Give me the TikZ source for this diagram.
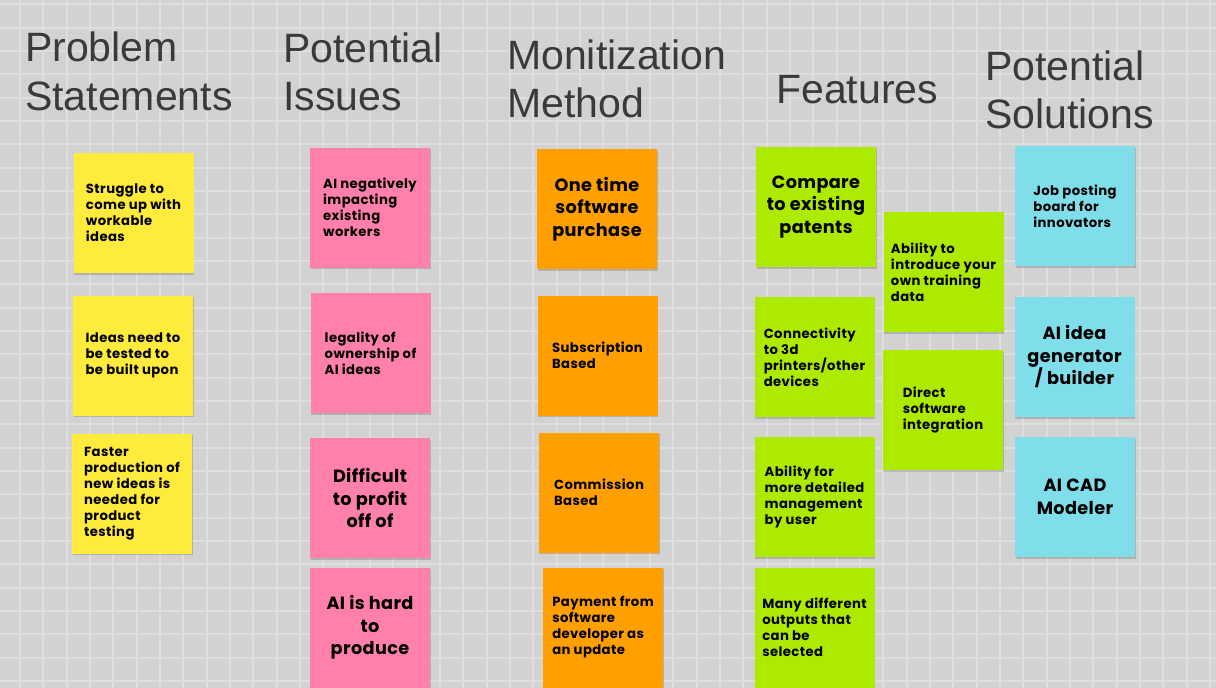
\documentclass[tikz,border=0pt]{standalone}
\usepackage{fontspec}
\usetikzlibrary{shadows}
\setmainfont{Liberation Sans}
\newfontfamily\notefont{Poppins}[LetterSpace=3]
\newfontfamily\bignotefont{Poppins}[LetterSpace=2]

\definecolor{boardbg}{HTML}{D2D2D2}
\definecolor{boardgrid}{HTML}{DEDEDE}
\definecolor{headtext}{HTML}{383A3C}
\definecolor{noteyellow}{HTML}{FFEB3B}
\definecolor{notepink}{HTML}{FF80AB}
\definecolor{noteorange}{HTML}{FF9F00}
\definecolor{notegreen}{HTML}{AEEA00}
\definecolor{notecyan}{HTML}{80DEEA}

\tikzset{
  heading/.style={anchor=base west, inner sep=0pt, text=headtext,
    font=\fontsize{41}{48}\selectfont},
  note/.style={minimum width=120pt, minimum height=120pt, inner sep=0pt,
    text=black, align=left,
    drop shadow={shadow xshift=0.6pt, shadow yshift=-1.6pt, fill=black, opacity=0.16},
    font=\notefont\bfseries\fontsize{13.2}{16}\selectfont},
  bignote/.style={note, align=center,
    font=\bignotefont\bfseries\fontsize{17.7}{22.5}\selectfont},
  gridline/.style={draw=boardgrid, line width=2pt},
}

\begin{document}
\begin{tikzpicture}[x=1pt, y=-1pt]
  % board background with square grid
  \useasboundingbox (0,0) rectangle (1216,688);
  \fill[boardbg] (0,0) rectangle (1216,688);
  \begin{scope}
    \clip (0,0) rectangle (1216,688);
    \foreach \i in {0,...,52} {
      \draw[gridline] (20+\i*23.333,0) -- (20+\i*23.333,688);
    }
    \foreach \j in {0,...,29} {
      \draw[gridline] (0,4.3+\j*23.333) -- (1216,4.3+\j*23.333);
    }
  \end{scope}

  % column headings
  \node[heading] (h1a) at (25,61.7)  {Problem};
  \node[heading] (h1b) at (25,110)   {Statements};
  \node[heading] (h2a) at (283,62.7) {Potential};
  \node[heading] (h2b) at (283,110.7){Issues};
  \node[heading] (h3a) at (507,69.3) {Monitization};
  \node[heading] (h3b) at (507,117.7){Method};
  \node[heading] (h4a) at (776,103.3){Features};
  \node[heading] (h5a) at (985,80)   {Potential};
  \node[heading] (h5b) at (985,128.3){Solutions};

  % problem statements
  \node[note, fill=noteyellow] (ps1) at (133.5,213)  {Struggle to\\come up with\\workable\\ideas};
  \node[note, fill=noteyellow] (ps2) at (133,355.5)  {Ideas need to\\be tested to\\be built upon};
  \node[note, fill=noteyellow] (ps3) at (132,493.5)  {Faster\\production of\\new ideas is\\needed for\\product\\testing};

  % potential issues
  \node[note, fill=notepink] (pi1) at (370,207.5)    {AI negatively\\impacting\\existing\\workers};
  \node[note, fill=notepink] (pi2) at (370.5,353)    {legality of\\ownership of\\AI ideas};
  \node[bignote, fill=notepink] (pi3) at (370,498)   {Difficult\\to profit\\off of};
  \node[bignote, fill=notepink] (pi4) at (370,627.5) {AI is hard\\to\\produce};

  % monetization methods
  \node[bignote, fill=noteorange] (mm1) at (597,209)   {One time\\software\\purchase};
  \node[note, fill=noteorange] (mm2) at (597.5,355.5)  {Subscription\\Based};
  \node[note, fill=noteorange] (mm3) at (599,492.5)    {Commission\\Based};
  \node[note, fill=noteorange] (mm4) at (603,627.5)    {Payment from\\software\\developer as\\an update};

  % features
  \node[bignote, fill=notegreen] (ft1) at (816,207)    {Compare\\to existing\\patents};
  \node[note, fill=notegreen] (ft2) at (943.5,272)     {Ability to\\introduce your\\own training\\data};
  \node[note, fill=notegreen] (ft3) at (814.5,357)     {Connectivity\\to 3d\\printers/other\\devices};
  \node[note, fill=notegreen] (ft4) at (943,410)       {Direct\\software\\integration};
  \node[note, fill=notegreen] (ft5) at (814.5,497)     {Ability for\\more detailed\\management\\by user};
  \node[note, fill=notegreen] (ft6) at (814.5,627.5)   {Many different\\outputs that\\can be\\selected};

  % potential solutions
  \node[note, fill=notecyan] (so1) at (1075,206)       {Job posting\\board for\\innovators};
  \node[bignote, fill=notecyan] (so2) at (1074.5,357)  {AI idea\\generator\\/ builder};
  \node[bignote, fill=notecyan] (so3) at (1075,497)    {AI CAD\\Modeler};
\end{tikzpicture}
\end{document}
